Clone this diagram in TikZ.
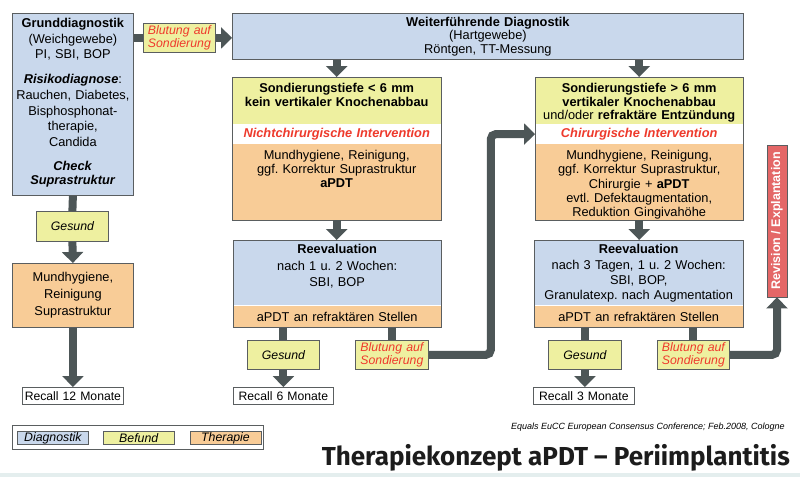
\documentclass[tikz,border=0pt]{standalone}
\usepackage{fontspec}
\setmainfont{Liberation Sans}
\newfontfamily\titelschrift{Fira Sans}
\usepackage{xcolor}
\usepackage{tikz}
\usetikzlibrary{arrows.meta,positioning}
\definecolor{diagblau}{HTML}{C9D8EC}
\definecolor{befundgelb}{HTML}{EEF0A0}
\definecolor{therapieorange}{HTML}{F8CC97}
\definecolor{randgrau}{HTML}{5A5E60}
\definecolor{pfeilgrau}{HTML}{4D5657}
\definecolor{rotschrift}{HTML}{EE3A2C}
\definecolor{revrot}{HTML}{E46767}
\definecolor{streifen}{HTML}{E4EEEE}
\definecolor{titelschwarz}{HTML}{1C1C1C}
\tikzset{
    feld/.style={inner sep=0pt, align=center, font=\fontsize{12.8}{14}\selectfont},
    klein/.style={draw=randgrau, line width=0.8pt, inner sep=0pt, align=center, font=\fontsize{12.3}{12.5}\selectfont\itshape},
    recallbox/.style={draw=randgrau, line width=0.8pt, fill=white, inner sep=0pt, align=center, minimum height=17pt, anchor=north west, font=\fontsize{12.2}{13}\selectfont},
    legbox/.style={draw=randgrau, line width=0.8pt, inner sep=0pt, minimum width=71pt, minimum height=13pt, font=\fontsize{12.3}{13}\selectfont\itshape},
    rahmen/.style={draw=randgrau, line width=0.8pt},
    diag/.style={fill=diagblau},
    befund/.style={fill=befundgelb},
    therapie/.style={fill=therapieorange}}
\tikzset{
    balken/.style={draw=pfeilgrau, line width=8pt},
    pfeil/.style={balken, -{Triangle[width=21pt,length=11pt]}}
}
\frenchspacing

\begin{document}
\begin{tikzpicture}[x=1pt,y=-1pt]
\useasboundingbox (0,0) rectangle (800,477);
\fill[streifen] (0,473) rectangle (800,477);

% linke Spalte
\node[feld, diag, rahmen, anchor=north west, text width=121pt, text height=14pt, text depth=168pt, font=\fontsize{12.8}{15.7}\selectfont] (grund) at (12,13) {\textbf{Grunddiagnostik}\\(Weichgewebe)\\PI, SBI, BOP\\[9.3pt]\textbf{\textit{Risikodiagnose}}:\\Rauchen, Diabetes,\\Bisphosphonat-\\therapie,\\Candida\\[8.3pt]\textbf{\textit{Check}}\\[-1.7pt]\textbf{\textit{Suprastruktur}}};
\node[klein, befund, text=rotschrift, text width=72pt, minimum height=29pt, anchor=north west] (blutungA) at (143,23) {Blutung auf\\Sondierung};
\node[klein, befund, text width=72pt, minimum height=30pt, anchor=north west] (gesundA) at (36,211) {Gesund};
\node[feld, therapie, rahmen, text width=121pt, minimum height=64pt, anchor=north west, font=\fontsize{12.8}{17}\selectfont] (mund) at (12,263) {Mundhygiene,\\Reinigung\\Suprastruktur};
\node[recallbox, text width=101pt] (recallA) at (22,387) {Recall 12 Monate};

% Weiterfuehrende Diagnostik
\node[feld, diag, rahmen, text width=511pt, minimum height=46pt, anchor=north west, font=\fontsize{12.8}{13.5}\selectfont] (weiter) at (232,13) {\textbf{Weiterführende Diagnostik}\\(Hartgewebe)\\Röntgen, TT-Messung};

\node[feld, befund, text width=209pt, text height=15.5pt, text depth=31.5pt, anchor=north west, font=\fontsize{12.8}{13.5}\selectfont\bfseries] (nichtchirB) at (232,77) {Sondierungstiefe < 6 mm\\kein vertikaler Knochenabbau};
\node[feld, fill=white, text width=209pt, minimum height=19pt, text=rotschrift, font=\fontsize{12.8}{14}\selectfont\bfseries\itshape, below=0pt of nichtchirB] (nichtchirI) {Nichtchirurgische Intervention};
\node[feld, therapie, text width=209pt, text height=15.5pt, text depth=60.5pt, below=0pt of nichtchirI] (nichtchirT) {Mundhygiene, Reinigung,\\ggf. Korrektur Suprastruktur\\\textbf{aPDT}};
\draw[rahmen] (nichtchirB.north west) rectangle (nichtchirT.south east);

\node[feld, befund, text width=208pt, text height=15.5pt, text depth=31.5pt, anchor=north west, font=\fontsize{12.8}{13.5}\selectfont] (chirB) at (535,77) {\textbf{Sondierungstiefe > 6 mm}\\\textbf{vertikaler Knochenabbau}\\und/oder \textbf{refraktäre Entzündung}};
\node[feld, fill=white, text width=208pt, minimum height=19pt, text=rotschrift, font=\fontsize{12.8}{14}\selectfont\bfseries\itshape, below=0pt of chirB] (chirI) {Chirurgische Intervention};
\node[feld, therapie, text width=208pt, text height=15.5pt, text depth=60.5pt, below=0pt of chirI, font=\fontsize{12.8}{14.25}\selectfont] (chirT) {Mundhygiene, Reinigung,\\ggf. Korrektur Suprastruktur,\\Chirurgie + \textbf{aPDT}\\evtl. Defektaugmentation,\\Reduktion Gingivahöhe};
\draw[rahmen] (chirB.north west) rectangle (chirT.south east);

% Reevaluation
\node[feld, diag, text width=208pt, text height=13.5pt, text depth=51.5pt, anchor=north west, font=\fontsize{12.8}{16.3}\selectfont] (reevalA) at (233,240) {\textbf{Reevaluation}\\nach 1 u. 2 Wochen:\\SBI, BOP};
\node[feld, therapie, text width=208pt, minimum height=22pt, below=0pt of reevalA] (reevalAt) {aPDT an refraktären Stellen};
\draw[rahmen] (reevalA.north west) rectangle (reevalAt.south east);

\node[feld, diag, text width=209pt, text height=13.5pt, text depth=51.5pt, anchor=north west, font=\fontsize{12.8}{15.3}\selectfont] (reevalB) at (534,240) {\textbf{Reevaluation}\\nach 3 Tagen, 1 u. 2 Wochen:\\SBI, BOP,\\Granulatexp. nach Augmentation};
\node[feld, therapie, text width=209pt, minimum height=22pt, below=0pt of reevalB] (reevalBt) {aPDT an refraktären Stellen};
\draw[rahmen] (reevalB.north west) rectangle (reevalBt.south east);

\node[klein, befund, text width=72pt, minimum height=29pt, anchor=north west] (gesundB) at (247,340) {Gesund};
\node[klein, befund, text=rotschrift, text width=73pt, minimum height=29pt, anchor=north west] (blutungB) at (355,340) {Blutung auf\\Sondierung};
\node[recallbox, text width=100pt] (recallB) at (233,387) {Recall 6 Monate};

\node[klein, befund, text width=73pt, minimum height=29pt, anchor=north west] (gesundC) at (548,340) {Gesund};
\node[klein, befund, text=rotschrift, text width=72pt, minimum height=29pt, anchor=north west] (blutungC) at (657,340) {Blutung auf\\Sondierung};
\node[recallbox, text width=101pt] (recallC) at (533,387) {Recall 3 Monate};

\node[rahmen, fill=revrot, text=white, inner sep=0pt, minimum width=152pt, minimum height=20pt, rotate=90, font=\fontsize{12.5}{13}\selectfont\bfseries] (revision) at (777,221) {Revision / Explantation};

% Pfeile
\draw[balken] (grund.east |- blutungA.west) -- (blutungA.west);
\draw[pfeil] (blutungA.east) -- (blutungA.east -| weiter.west);
\draw[balken] (grund.south) -- (gesundA.north);
\draw[pfeil] (gesundA.south) -- (mund.north);
\draw[pfeil] (mund.south) -- (recallA.north);
\draw[pfeil] (weiter.south -| nichtchirB.north) -- (nichtchirB.north);
\draw[pfeil] (weiter.south -| chirB.north) -- (chirB.north);
\draw[pfeil] (nichtchirT.south) -- (nichtchirT.south |- reevalA.north);
\draw[pfeil] (chirT.south) -- (chirT.south |- reevalB.north);
\draw[balken] (reevalAt.south -| gesundB.north) -- (gesundB.north);
\draw[balken] (reevalAt.south -| blutungB.north) -- (blutungB.north);
\draw[pfeil] (gesundB.south) -- (gesundB.south |- recallB.north);
\draw[pfeil, rounded corners=5pt] (blutungB.east) -- ++(62,0) |- (chirI.west);
\draw[balken] (reevalBt.south -| gesundC.north) -- (gesundC.north);
\draw[balken] (reevalBt.south -| blutungC.north) -- (blutungC.north);
\draw[pfeil] (gesundC.south) -- (gesundC.south |- recallC.north);
\draw[pfeil, rounded corners=5pt] (blutungC.east) -| (revision.west);

% Legende
\node[rahmen, fill=white, inner sep=0pt, minimum width=251pt, minimum height=24pt, anchor=north west] (legende) at (12,425) {};
\node[legbox, diag, anchor=north west] (legDiag) at (17,431) {Diagnostik};
\node[legbox, befund, right=14pt of legDiag] (legBef) {Befund};
\node[legbox, therapie, right=15pt of legBef] (legTher) {Therapie};

\node[anchor=base east, inner sep=0pt, font=\fontsize{9}{10}\selectfont\itshape] (quelle) at (785,429) {Equals EuCC European Consensus Conference; Feb.2008, Cologne};
\node[anchor=base east, inner sep=0pt, text=titelschwarz, font=\titelschrift\bfseries\fontsize{26}{30}\selectfont] (titel) at (790,465) {Therapiekonzept aPDT – Periimplantitis};
\end{tikzpicture}
\end{document}
